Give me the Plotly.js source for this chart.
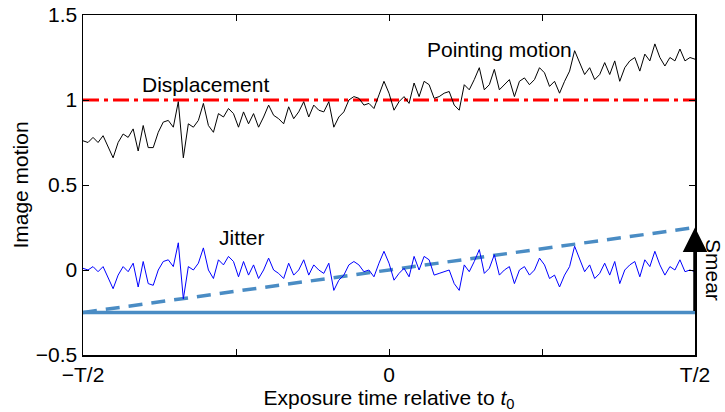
<!DOCTYPE html>
<html>
<head>
<meta charset="utf-8">
<script src="https://cdn.plot.ly/plotly-3.0.1.min.js"></script>
<style>html,body{margin:0;padding:0;background:#fff;}#chart{width:725px;height:412px;}</style>
</head>
<body>
<div id="chart"></div>
<script>
// Jitter values (evenly spaced over the exposure, -T/2 .. T/2)
var jitter = [0.01,0.0,0.02,-0.01,0.02,-0.05,-0.11,-0.03,0.02,-0.01,
0.04,-0.10,0.05,-0.08,-0.09,0.0,0.05,0.06,0.02,0.16,
-0.17,0.02,0.0,0.04,0.13,0.0,-0.05,0.06,0.03,0.08,
0.05,-0.04,0.05,-0.03,0.03,-0.05,0.0,0.07,0.0,-0.02,
-0.05,0.04,-0.03,0.0,0.06,-0.03,0.03,0.0,-0.02,0.04,
-0.12,-0.06,-0.03,0.03,0.05,0.03,-0.01,0.0,-0.04,0.04,
0.11,0.04,-0.06,-0.02,0.01,-0.04,0.08,0.0,0.08,0.06,
-0.03,-0.02,-0.01,0.0,-0.08,-0.12,0.03,-0.01,0.05,0.12,
-0.02,0.01,0.09,-0.03,0.0,0.02,-0.08,0.0,0.02,-0.03,
0.0,0.07,0.03,-0.05,-0.03,-0.10,-0.03,0.02,0.14,0.06,
-0.01,0.03,-0.05,-0.02,0.04,-0.03,0.05,-0.08,0.0,0.03,
0.05,-0.04,0.06,0.02,0.11,0.03,-0.03,0.02,0.0,0.06,
-0.01,0.0,-0.01];

// Pointing motion values
var pointing = [0.76,0.75,0.78,0.75,0.79,0.72,0.66,0.75,0.80,0.78,
0.83,0.70,0.85,0.72,0.72,0.81,0.87,0.88,0.84,0.99,
0.66,0.86,0.84,0.88,0.98,0.85,0.81,0.92,0.90,0.95,
0.92,0.84,0.93,0.86,0.92,0.84,0.90,0.97,0.91,0.89,
0.86,0.96,0.89,0.93,0.99,0.90,0.97,0.94,0.93,0.99,
0.84,0.90,0.93,1.00,1.02,1.01,0.97,0.98,0.95,1.03,
1.11,1.04,0.94,0.99,1.02,0.98,1.10,1.02,1.11,1.09,
1.01,1.02,1.04,1.05,0.97,0.94,1.09,1.06,1.12,1.19,
1.06,1.09,1.18,1.06,1.09,1.12,1.02,1.11,1.13,1.09,
1.12,1.19,1.16,1.08,1.11,1.04,1.11,1.17,1.29,1.22,
1.15,1.19,1.12,1.15,1.22,1.15,1.23,1.11,1.19,1.23,
1.25,1.17,1.27,1.23,1.33,1.25,1.20,1.25,1.23,1.30,
1.23,1.25,1.24];

var lineEnds = [-0.5, 0.5];
var displacementLevel = [1, 1];
var smearLine = [-0.25, 0.25];
var baseLine = [-0.25, -0.25];
var arrowX = [0.5, 0.5];
var arrowY = [-0.25, 0.25];

var xTickVals = [-0.5, 0, 0.5];
var xTickText = ["\u2212T/2", "0", "T/2"];
var yTickVals = [-0.5, 0, 0.5, 1, 1.5];
var yTickText = ["\u22120.5", "0", "0.5", "1", "1.5"];

var tJ = jitter.map(function(_, i){ return -0.5 + i/(jitter.length-1); });
var tP = pointing.map(function(_, i){ return -0.5 + i/(pointing.length-1); });

var steel = "#4a8cc4";
var traces = [
  {x: lineEnds, y: baseLine, mode: "lines", line: {color: steel, width: 3.5}, cliponaxis: false},
  {x: lineEnds, y: smearLine, mode: "lines", line: {color: steel, width: 3.5, dash: "14px,9px"}},
  {x: tJ, y: jitter, mode: "lines", line: {color: "#0000ff", width: 1}},
  {x: lineEnds, y: displacementLevel, mode: "lines", line: {color: "#ff0000", width: 3, dash: "16px,5px,4px,5px"}},
  {x: tP, y: pointing, mode: "lines", line: {color: "#000000", width: 1}}
];

var fnt = {family: "Liberation Sans, Arial, sans-serif", size: 21, color: "#000"};
var layout = {
  width: 725, height: 412,
  margin: {l: 83, r: 30, t: 15, b: 57},
  paper_bgcolor: "#fff", plot_bgcolor: "#fff",
  showlegend: false,
  font: fnt,
  xaxis: {
    range: [-0.5, 0.5], tickvals: xTickVals, ticktext: xTickText,
    ticks: "inside", ticklen: 6, tickwidth: 1, tickcolor: "#000",
    minor: {tickvals: [-0.25, 0.25], ticks: "inside", ticklen: 6, tickwidth: 1, tickcolor: "#000"},
    showline: true, linecolor: "#000", linewidth: 1.5, mirror: "ticks",
    showgrid: false, zeroline: false, tickfont: fnt,
    title: {text: "Exposure time relative to <i>t</i><sub>0</sub>", font: fnt, standoff: 4}
  },
  yaxis: {
    range: [-0.5, 1.5], tickvals: yTickVals, ticktext: yTickText,
    ticks: "inside", ticklen: 6, tickwidth: 1, tickcolor: "#000",
    showline: true, linecolor: "#000", linewidth: 1.5, mirror: "ticks",
    showgrid: false, zeroline: false, tickfont: fnt,
    title: {text: "Image motion", font: fnt, standoff: 1}
  },
  annotations: [
    {x: -0.3, y: 1.09, xref: "x", yref: "y", text: "Displacement", showarrow: false, font: fnt},
    {x: 0.18, y: 1.3, xref: "x", yref: "y", text: "Pointing motion", showarrow: false, font: fnt},
    {x: -0.24, y: 0.19, xref: "x", yref: "y", text: "Jitter", showarrow: false, font: fnt},
    {x: arrowX[1], y: arrowY[1], ax: arrowX[0], ay: arrowY[0], xref: "x", yref: "y", axref: "x", ayref: "y",
     text: "", showarrow: true, arrowhead: 2, arrowsize: 1.4, arrowwidth: 3.5, arrowcolor: "#000"},
    {x: 0.5, y: 0, xref: "x", yref: "y", xshift: 19, text: "Smear", textangle: 90, showarrow: false, font: fnt}
  ]
};
Plotly.newPlot("chart", traces, layout, {displayModeBar: false, staticPlot: true});
</script>
</body>
</html>
